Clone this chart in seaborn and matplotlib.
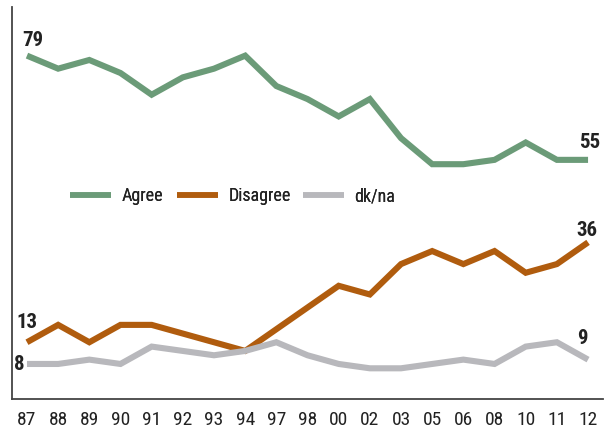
import matplotlib
matplotlib.use("Agg")
import matplotlib.pyplot as plt
from matplotlib import font_manager
import seaborn as sns
import pandas as pd

# Survey years and the share of responses in each group (%)
years = ["87", "88", "89", "90", "91", "92", "93", "94", "97", "98",
         "00", "02", "03", "05", "06", "08", "10", "11", "12"]
agree = [79, 76, 78, 75, 70, 74, 76, 79, 72, 69, 65, 69, 60, 54, 54, 55, 59, 55, 55]
disagree = [13, 17, 13, 17, 17, 15, 13, 11, 16, 21, 26, 24, 31, 34, 31, 34, 29, 31, 36]
dkna = [8, 8, 9, 8, 12, 11, 10, 11, 13, 10, 8, 7, 7, 8, 9, 8, 12, 13, 9]

series_names = ["Agree", "Disagree", "dk/na"]
colors = ["#6b9b78", "#b05c0e", "#b8b8bc"]

rows = []
for name, vals in zip(series_names, [agree, disagree, dkna]):
    for i, v in enumerate(vals):
        rows.append({"pos": i, "value": v, "series": name})
df = pd.DataFrame(rows)

sns.set_theme(style="white")

# Prefer a narrow sans face when one is available
available = {f.name for f in font_manager.fontManager.ttflist}
family = "DejaVu Sans"
for cand in ["Liberation Sans Narrow", "Roboto Condensed", "Open Sans Condensed"]:
    if cand in available:
        family = cand
        break
plt.rcParams["font.family"] = [family, "DejaVu Sans"]
plt.rcParams["font.stretch"] = "condensed"

fig = plt.figure(figsize=(6.07, 4.29), dpi=100)
ax = fig.add_axes([11.7 / 607, 1 - 398.7 / 429, (602.7 - 11.7) / 607, (398.7 - 7) / 429])

sns.lineplot(data=df, x="pos", y="value", hue="series", hue_order=series_names,
             palette=colors, linewidth=4.4, ax=ax, legend=False,
             solid_capstyle="butt", solid_joinstyle="miter")

ax.set_xlim(-0.49, len(years) - 1 + 0.47)
ax.set_ylim(0, 90.2)
ax.set_xticks(range(len(years)))
ax.set_xticklabels(years, fontsize=14, color="#222222", stretch="condensed")
ax.set_yticks([])
ax.set_xlabel("")
ax.set_ylabel("")
ax.tick_params(axis="x", length=0, pad=9)

for side in ["top", "right"]:
    ax.spines[side].set_visible(False)
for side in ["left", "bottom"]:
    ax.spines[side].set_color("#444444")
    ax.spines[side].set_linewidth(1.3)

# End-point value labels
lab = dict(fontsize=15, fontweight="bold", color="#222222", stretch="condensed",
           textcoords="offset pixels")
last = len(years) - 1
ax.annotate(str(agree[0]), (0, agree[0]), xytext=(6, 10), ha="center", va="baseline", **lab)
ax.annotate(str(agree[-1]), (last, agree[-1]), xytext=(2, 12), ha="center", va="baseline", **lab)
ax.annotate(str(disagree[0]), (0, disagree[0]), xytext=(0, 14), ha="center", va="baseline", **lab)
ax.annotate(str(disagree[-1]), (last, disagree[-1]), xytext=(-1, 6), ha="center", va="baseline", **lab)
ax.annotate(str(dkna[0]), (0, dkna[0]), xytext=(-2, -1), ha="right", va="center", **lab)
ax.annotate(str(dkna[-1]), (last, dkna[-1]), xytext=(-6, 16), ha="center", va="baseline", **lab)

# Legend: one entry per series, each starting at its own x position
legend_x = [70, 176.7, 303]
for name, c, lx in zip(series_names, colors, legend_x):
    h = plt.Line2D([], [], color=c, linewidth=4.0, solid_capstyle="butt")
    leg = fig.legend([h], [name], loc="center left",
                     bbox_to_anchor=(lx / 607, 1 - 196 / 429), bbox_transform=fig.transFigure,
                     frameon=False, handlelength=2.27, handletextpad=0.58,
                     borderpad=0, borderaxespad=0, labelcolor="#222222",
                     prop={"size": 13, "stretch": "condensed"})
    fig.add_artist(leg)

fig.savefig("out.png", dpi=100)
